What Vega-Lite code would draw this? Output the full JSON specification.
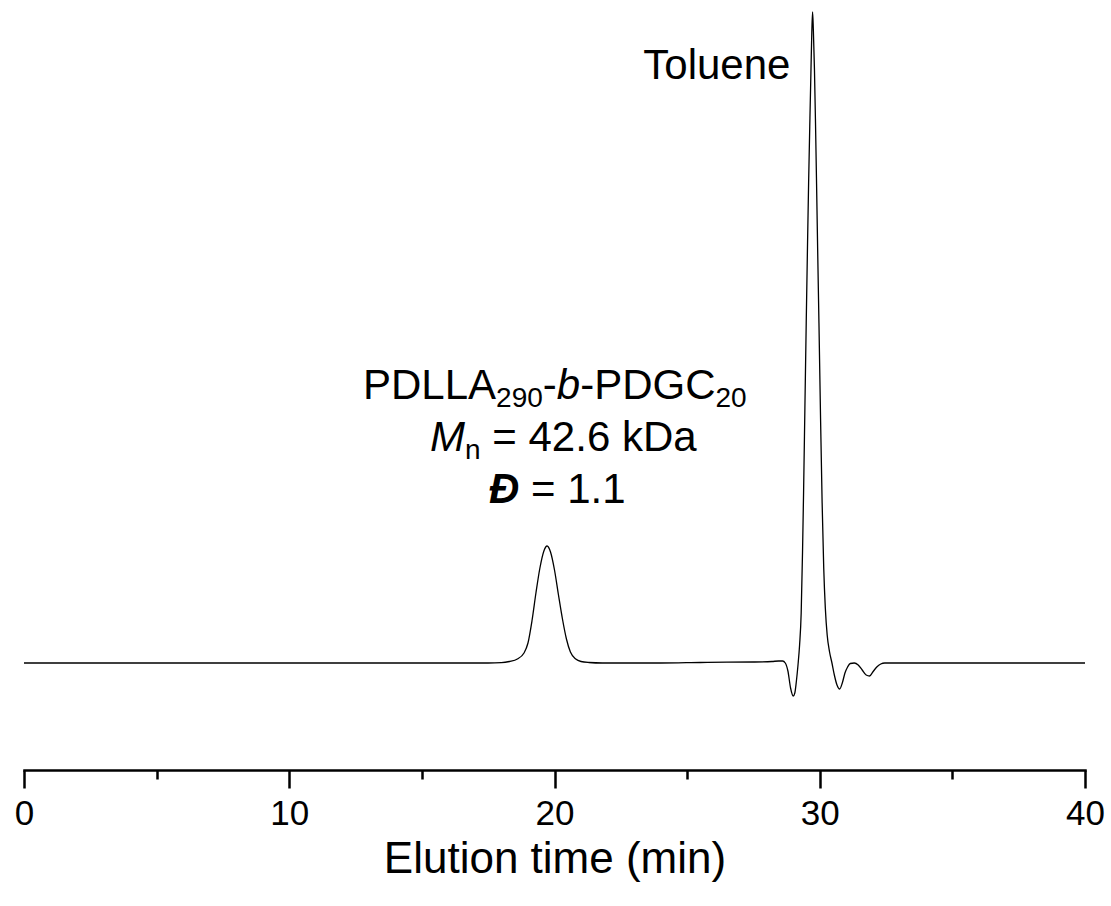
{
  "$schema": "https://vega.github.io/schema/vega-lite/v6.json",
  "width": 1061,
  "height": 760,
  "autosize": {"type": "none"},
  "padding": {"left": 24, "top": 10, "right": 26, "bottom": 136},
  "background": "white",
  "config": {"view": {"stroke": null}, "font": "Liberation Sans"},
  "datasets": {
    "trace": [
      {"t": 0, "v": 0}, {"t": 5, "v": 0}, {"t": 10, "v": 0}, {"t": 15, "v": 0}, {"t": 17.5, "v": 0},
      {"t": 18.0, "v": 0.3}, {"t": 18.3, "v": 1.5}, {"t": 18.6, "v": 4}, {"t": 18.85, "v": 10},
      {"t": 19.0, "v": 20}, {"t": 19.15, "v": 42}, {"t": 19.3, "v": 70}, {"t": 19.45, "v": 95},
      {"t": 19.6, "v": 112}, {"t": 19.72, "v": 117}, {"t": 19.85, "v": 111}, {"t": 20.0, "v": 93},
      {"t": 20.15, "v": 68}, {"t": 20.3, "v": 44}, {"t": 20.45, "v": 24}, {"t": 20.6, "v": 11},
      {"t": 20.8, "v": 4}, {"t": 21.0, "v": 1.5}, {"t": 21.3, "v": 0.5}, {"t": 21.8, "v": 0},
      {"t": 24, "v": 0}, {"t": 25.5, "v": 0.5}, {"t": 26.5, "v": 0.8}, {"t": 27.5, "v": 1},
      {"t": 28.2, "v": 1.5}, {"t": 28.45, "v": 2}, {"t": 28.6, "v": 2}, {"t": 28.7, "v": 0},
      {"t": 28.8, "v": -8}, {"t": 28.9, "v": -25}, {"t": 29.0, "v": -33}, {"t": 29.06, "v": -30},
      {"t": 29.12, "v": -18}, {"t": 29.18, "v": -2}, {"t": 29.24, "v": 18}, {"t": 29.3, "v": 50},
      {"t": 29.35, "v": 110}, {"t": 29.39, "v": 170}, {"t": 29.44, "v": 255},
      {"t": 29.49, "v": 340}, {"t": 29.54, "v": 420}, {"t": 29.58, "v": 480}, {"t": 29.63, "v": 545},
      {"t": 29.67, "v": 594}, {"t": 29.7, "v": 630}, {"t": 29.73, "v": 651}, {"t": 29.76, "v": 632},
      {"t": 29.8, "v": 594}, {"t": 29.84, "v": 540}, {"t": 29.88, "v": 479}, {"t": 29.92, "v": 415},
      {"t": 29.97, "v": 340}, {"t": 30.03, "v": 245}, {"t": 30.09, "v": 160}, {"t": 30.15, "v": 95},
      {"t": 30.21, "v": 55}, {"t": 30.28, "v": 28}, {"t": 30.37, "v": 11}, {"t": 30.46, "v": 0},
      {"t": 30.55, "v": -12}, {"t": 30.65, "v": -22}, {"t": 30.75, "v": -26}, {"t": 30.85, "v": -20},
      {"t": 30.95, "v": -10}, {"t": 31.05, "v": -4}, {"t": 31.15, "v": -0.5}, {"t": 31.3, "v": 0},
      {"t": 31.45, "v": -2}, {"t": 31.6, "v": -7}, {"t": 31.75, "v": -12}, {"t": 31.88, "v": -13},
      {"t": 32.0, "v": -9}, {"t": 32.15, "v": -4}, {"t": 32.3, "v": -1}, {"t": 32.45, "v": 0},
      {"t": 35, "v": 0}, {"t": 40, "v": 0}
    ],
    "regular": [
      {"t": 23.348, "v": 584, "label": "Toluene"},
      {"t": 12.780, "v": 264, "label": "PDLLA"},
      {"t": 19.559, "v": 264, "label": "-"},
      {"t": 20.969, "v": 264, "label": "-PDGC"},
      {"t": 17.655, "v": 212, "label": "= 42.6 kDa"},
      {"t": 19.114, "v": 160, "label": "= 1.1"}
    ],
    "sub": [
      {"t": 17.798, "v": 256, "label": "290"},
      {"t": 26.070, "v": 256, "label": "20"},
      {"t": 16.626, "v": 204, "label": "n"}
    ],
    "italic": [
      {"t": 20.087, "v": 264, "label": "b"},
      {"t": 15.306, "v": 212, "label": "M"}
    ],
    "bolditalic": [
      {"t": 17.531, "v": 160, "label": "Đ"}
    ]
  },
  "layer": [
    {
      "data": {"name": "trace"},
      "mark": {"type": "line", "color": "#000000", "strokeWidth": 1.3, "interpolate": "monotone"},
      "encoding": {
        "x": {
          "field": "t", "type": "quantitative",
          "scale": {"domain": [0, 40], "nice": false, "zero": false},
          "axis": {
            "orient": "bottom",
            "values": [0, 10, 20, 30, 40],
            "format": "d",
            "title": "Elution time (min)",
            "grid": false,
            "domainColor": "#000000", "domainWidth": 2.5, "domainCap": "square",
            "tickColor": "#000000", "tickWidth": 2.5, "tickSize": 18,
            "labelFont": "Liberation Sans", "labelFontSize": 35, "labelColor": "#000000",
            "labelPadding": 8, "labelFlush": false, "labelOverlap": false,
            "titleFont": "Liberation Sans", "titleFontSize": 44, "titleFontWeight": "normal",
            "titleColor": "#000000", "titlePadding": 6
          }
        },
        "y": {
          "field": "v", "type": "quantitative",
          "scale": {"domain": [-107, 653], "nice": false, "zero": false},
          "axis": null
        }
      }
    },
    {
      "data": {"name": "regular"},
      "mark": {"type": "text", "align": "left", "baseline": "alphabetic", "font": "Liberation Sans", "fontSize": 42, "color": "#000000"},
      "encoding": {
        "x": {
          "field": "t", "type": "quantitative",
          "axis": {
            "orient": "bottom",
            "values": [5, 15, 25, 35],
            "labels": false, "domain": false, "grid": false, "title": null,
            "tickColor": "#000000", "tickWidth": 2.5, "tickSize": 9
          }
        },
        "y": {"field": "v", "type": "quantitative", "axis": null},
        "text": {"field": "label"}
      }
    },
    {
      "data": {"name": "sub"},
      "mark": {"type": "text", "align": "left", "baseline": "alphabetic", "font": "Liberation Sans", "fontSize": 28, "color": "#000000"},
      "encoding": {
        "x": {"field": "t", "type": "quantitative", "axis": null},
        "y": {"field": "v", "type": "quantitative", "axis": null},
        "text": {"field": "label"}
      }
    },
    {
      "data": {"name": "italic"},
      "mark": {"type": "text", "align": "left", "baseline": "alphabetic", "font": "Liberation Sans", "fontSize": 42, "fontStyle": "italic", "color": "#000000"},
      "encoding": {
        "x": {"field": "t", "type": "quantitative", "axis": null},
        "y": {"field": "v", "type": "quantitative", "axis": null},
        "text": {"field": "label"}
      }
    },
    {
      "data": {"name": "bolditalic"},
      "mark": {"type": "text", "align": "left", "baseline": "alphabetic", "font": "Liberation Sans", "fontSize": 42, "fontStyle": "italic", "fontWeight": "bold", "color": "#000000"},
      "encoding": {
        "x": {"field": "t", "type": "quantitative", "axis": null},
        "y": {"field": "v", "type": "quantitative", "axis": null},
        "text": {"field": "label"}
      }
    }
  ],
  "resolve": {"axis": {"x": "independent"}}
}
